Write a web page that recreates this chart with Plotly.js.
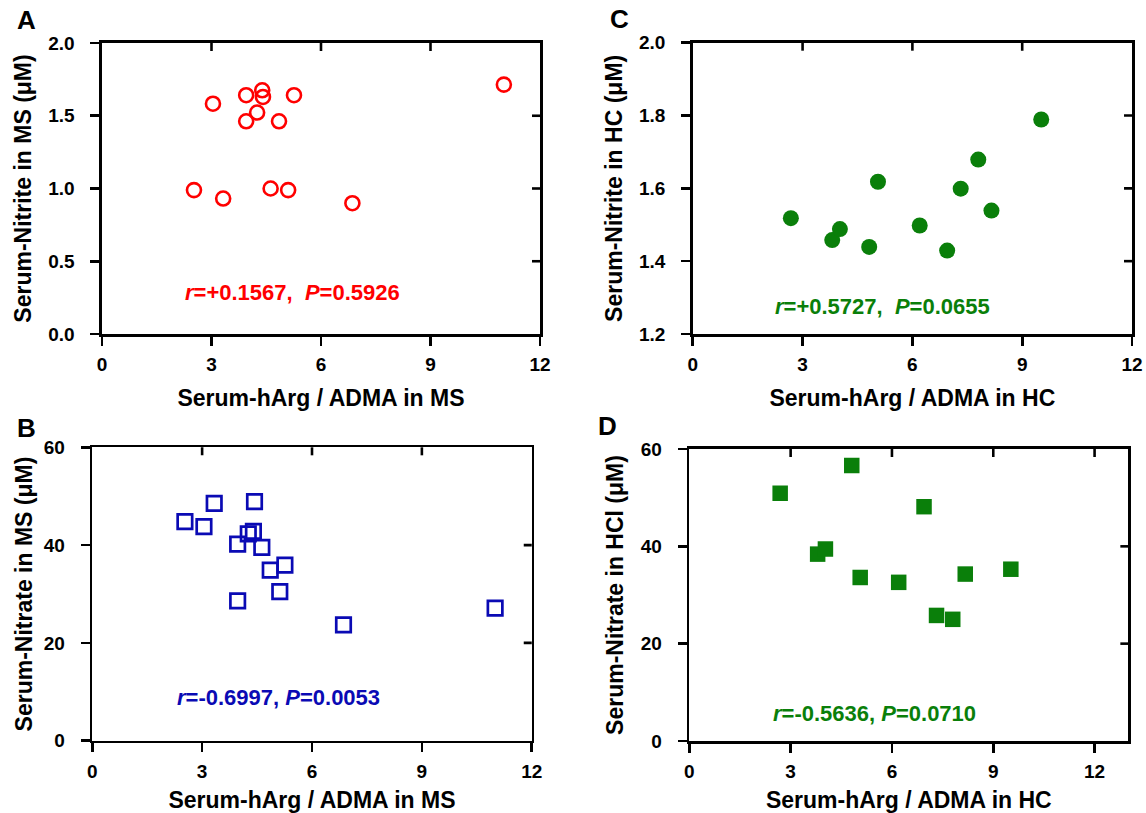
<!DOCTYPE html>
<html>
<head>
<meta charset="utf-8">
<script src="https://cdn.plot.ly/plotly-3.0.1.min.js"></script>
<style>html,body{margin:0;padding:0;background:#fff;}#plot{width:1146px;height:813px;}</style>
</head>
<body>
<div id="plot"></div>
<script>
// Panel A: Serum-Nitrite vs hArg/ADMA in MS
var msRatioA = [11.01, 3.04, 3.95, 4.39, 4.41, 5.26, 4.25, 3.95, 4.85, 2.52, 3.32, 4.62, 5.10, 6.86];
var msNitrite = [1.714, 1.583, 1.641, 1.675, 1.629, 1.641, 1.522, 1.462, 1.462, 0.989, 0.931, 1.000, 0.989, 0.899];
// Panel B: Serum-Nitrate vs hArg/ADMA in MS
var msRatioB = [2.53, 3.05, 3.33, 4.43, 4.26, 4.40, 3.97, 4.63, 4.86, 5.26, 5.12, 3.97, 6.86, 11.0];
var msNitrate = [44.8, 43.8, 48.55, 48.9, 42.3, 42.8, 40.2, 39.55, 34.9, 35.9, 30.5, 28.6, 23.7, 27.1];
// Panel C: Serum-Nitrite vs hArg/ADMA in HC
var hcRatioC = [2.68, 3.81, 4.02, 4.82, 5.06, 6.20, 6.95, 7.32, 7.80, 8.16, 9.52];
var hcNitrite = [1.518, 1.458, 1.488, 1.439, 1.618, 1.498, 1.429, 1.599, 1.679, 1.539, 1.789];
// Panel D: Serum-Nitrate vs hArg/ADMA in HC
var hcRatioD = [2.69, 4.81, 6.95, 3.80, 4.03, 5.06, 6.20, 7.32, 7.80, 8.17, 9.52];
var hcNitrate = [50.9, 56.6, 48.15, 38.4, 39.45, 33.6, 32.6, 25.8, 25.0, 34.3, 35.3];

var xTicks = [0, 3, 6, 9, 12];
var yTicksNitriteMS = [0, 0.5, 1.0, 1.5, 2.0];
var yTicksNitriteHC = [1.2, 1.4, 1.6, 1.8, 2.0];
var yTicksNitrate = [0, 20, 40, 60];

var panelLetters = ['A', 'B', 'C', 'D'];
var statTexts = [
  '<b><i>r</i>=+0.1567,&nbsp; <i>P</i>=0.5926</b>',
  '<b><i>r</i>=-0.6997, <i>P</i>=0.0053</b>',
  '<b><i>r</i>=+0.5727,&nbsp; <i>P</i>=0.0655</b>',
  '<b><i>r</i>=-0.5636, <i>P</i>=0.0710</b>'
];
var xTitles = ['Serum-hArg / ADMA in MS', 'Serum-hArg / ADMA in MS', 'Serum-hArg / ADMA in HC', 'Serum-hArg / ADMA in HC'];
var yTitles = ['Serum-Nitrite in MS (μM)', 'Serum-Nitrate in MS (μM)', 'Serum-Nitrite in HC (μM)', 'Serum-Nitrate in HCl (μM)'];

var RED = '#ff0000', BLUE = '#0a0ab4', GREEN = '#0a7f0a';
var FONT = 'Liberation Sans, Arial, Helvetica, sans-serif';

var traces = [
  {x: msRatioA, y: msNitrite, xaxis: 'x', yaxis: 'y', mode: 'markers', type: 'scatter',
   marker: {symbol: 'circle-open', size: 14, color: RED, line: {width: 2.6, color: RED}}},
  {x: msRatioB, y: msNitrate, xaxis: 'x2', yaxis: 'y2', mode: 'markers', type: 'scatter',
   marker: {symbol: 'square-open', size: 14.5, color: BLUE, line: {width: 2.7, color: BLUE}}},
  {x: hcRatioC, y: hcNitrite, xaxis: 'x3', yaxis: 'y3', mode: 'markers', type: 'scatter',
   marker: {symbol: 'circle', size: 16, color: GREEN, line: {width: 0}}},
  {x: hcRatioD, y: hcNitrate, xaxis: 'x4', yaxis: 'y4', mode: 'markers', type: 'scatter',
   marker: {symbol: 'square', size: 15.5, color: GREEN, line: {width: 0}}}
];

var panels = [
  {xd: [0.0890, 0.4712], yd: [0.5892, 0.9471], xr: [0, 12], yr: [0, 2.0], yt: yTicksNitriteMS, yfmt: '.1f', xs: 16, ys: 10},
  {xd: [0.0805, 0.4640], yd: [0.0889, 0.4498], xr: [0, 12], yr: [0, 60], yt: yTicksNitrate, yfmt: 'd', xs: 16, ys: 5},
  {xd: [0.6045, 0.9878], yd: [0.5892, 0.9475], xr: [0, 12], yr: [1.2, 2.0], yt: yTicksNitriteHC, yfmt: '.1f', xs: 16, ys: 10},
  {xd: [0.6015, 0.9846], yd: [0.0886, 0.4477], xr: [0, 13], yr: [0, 60], yt: yTicksNitrate, yfmt: 'd', xs: 11, ys: 11}
];

var layout = {
  width: 1146, height: 813,
  margin: {l: 0, r: 0, t: 0, b: 0},
  paper_bgcolor: '#ffffff', plot_bgcolor: '#ffffff',
  showlegend: false,
  font: {family: FONT, color: '#000'},
  annotations: [],
  shapes: []
};

var tickFont = {family: FONT, size: 19, color: '#000', weight: 700};
var titleFont = {family: FONT, size: 23, color: '#000', weight: 700};
var statColors = [RED, BLUE, GREEN, GREEN];
var statPos = [[0.2548, 0.6408], [0.2426, 0.1415], [0.7705, 0.6236], [0.7627, 0.1230]];
var letterPos = [[0.0227, 0.9754], [0.0227, 0.4736], [0.5410, 0.9766], [0.5305, 0.4760]];

panels.forEach(function (p, i) {
  var n = i + 1;
  var sfx = n === 1 ? '' : String(n);
  layout['xaxis' + sfx] = {
    domain: p.xd, range: p.xr, anchor: 'y' + sfx,
    tickmode: 'array', tickvals: xTicks, ticktext: xTicks.map(function (v) { return '<b>' + v + '</b>'; }),
    ticks: 'outside', ticklen: 9, tickwidth: 2.6, tickcolor: '#000',
    showline: true, linewidth: 2.6, linecolor: '#000', mirror: true,
    showgrid: false, zeroline: false, tickfont: tickFont, ticklabelstandoff: 3,
    title: {text: xTitles[i], font: titleFont, standoff: p.xs},
    fixedrange: true
  };
  layout['yaxis' + sfx] = {
    domain: p.yd, range: p.yr, anchor: 'x' + sfx,
    tickmode: 'array', tickvals: p.yt,
    ticktext: p.yt.map(function (v) { return '<b>' + (p.yfmt === 'd' ? String(v) : v.toFixed(1)) + '</b>'; }),
    ticks: 'outside', ticklen: 9, tickwidth: 2.6, tickcolor: '#000',
    showline: true, linewidth: 2.6, linecolor: '#000', mirror: true,
    showgrid: false, zeroline: false, tickfont: tickFont, ticklabelstandoff: 12,
    title: {text: yTitles[i], font: titleFont, standoff: p.ys},
    fixedrange: true
  };
  // inside ticks on top edge (mirror of x ticks)
  xTicks.forEach(function (t) {
    if (t <= p.xr[0] || t >= p.xr[1]) return;
    layout.shapes.push({
      type: 'line', xref: 'x' + sfx, yref: 'y' + sfx + ' domain',
      x0: t, x1: t, ysizemode: 'pixel', yanchor: 1, y0: 0, y1: -8,
      line: {color: '#000', width: 2.6}, layer: 'above'
    });
  });
  // inside ticks on right edge (mirror of y ticks)
  p.yt.forEach(function (t) {
    if (t <= p.yr[0] || t >= p.yr[1]) return;
    layout.shapes.push({
      type: 'line', xref: 'x' + sfx + ' domain', yref: 'y' + sfx,
      y0: t, y1: t, xsizemode: 'pixel', xanchor: 1, x0: 0, x1: -8,
      line: {color: '#000', width: 2.6}, layer: 'above'
    });
  });

  layout.annotations.push({
    xref: 'paper', yref: 'paper', x: statPos[i][0], y: statPos[i][1],
    xanchor: 'center', yanchor: 'middle', showarrow: false,
    text: statTexts[i], font: {family: FONT, size: 22, color: statColors[i]}
  });
  layout.annotations.push({
    xref: 'paper', yref: 'paper', x: letterPos[i][0], y: letterPos[i][1],
    xanchor: 'center', yanchor: 'middle', showarrow: false,
    text: '<b>' + panelLetters[i] + '</b>', font: {family: FONT, size: 26, color: '#000'}
  });
});

Plotly.newPlot('plot', traces, layout, {displayModeBar: false, staticPlot: true});
</script>
</body>
</html>
